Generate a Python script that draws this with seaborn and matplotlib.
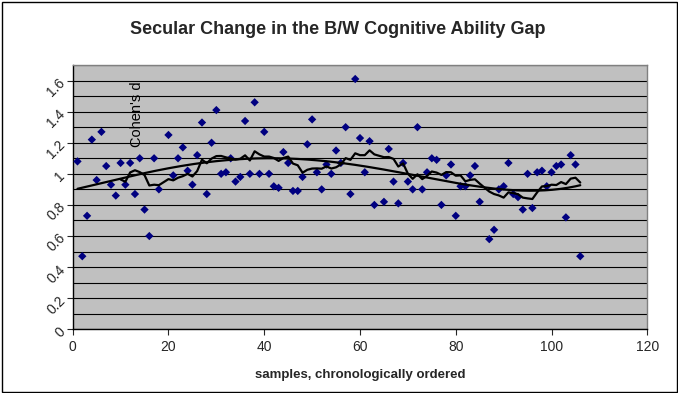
"""
Secular change in the B/W cognitive ability gap (Excel-style scatter chart).
"""

import matplotlib
matplotlib.use("Agg")
import matplotlib.pyplot as plt
from matplotlib.patches import Rectangle
from matplotlib.ticker import MultipleLocator
import seaborn as sns
import pandas as pd
import numpy as np

# samples, in chronological order (a few indices are absent in the source)
samples = [
    1, 2, 3, 4, 5, 6, 7, 8, 9, 10, 11, 12, 13, 14, 15, 16, 17, 18,
    20, 21, 22, 23, 24, 25, 26, 27, 28, 29, 30, 31, 32, 33, 34, 35, 36, 37, 38, 39, 40,
    41, 42, 43, 44, 45, 46, 47, 48, 49, 50, 51, 52, 53, 54, 55, 56, 57, 58, 59, 60,
    61, 62, 63, 65, 66, 67, 68, 69, 70, 71, 72, 73, 74, 75, 76, 77, 78, 79, 80,
    81, 82, 83, 84, 85, 87, 88, 89, 90, 91, 92, 93, 94, 95, 96, 97, 98, 99, 100,
    101, 102, 103, 104, 105, 106,
]
cohens_d = [
    1.08, 0.47, 0.73, 1.22, 0.96, 1.27, 1.05, 0.93, 0.86, 1.07, 0.93, 1.07, 0.87, 1.10, 0.77, 0.60, 1.10, 0.90,
    1.25, 0.99, 1.10, 1.17, 1.02, 0.93, 1.12, 1.33, 0.87, 1.20, 1.41, 1.00, 1.01, 1.10, 0.95, 0.98, 1.34, 1.00, 1.46, 1.00, 1.27,
    1.00, 0.92, 0.91, 1.14, 1.07, 0.89, 0.89, 0.98, 1.19, 1.35, 1.01, 0.90, 1.06, 1.00, 1.15, 1.07, 1.30, 0.87, 1.61, 1.23,
    1.01, 1.21, 0.80, 0.82, 1.16, 0.95, 0.81, 1.07, 0.95, 0.90, 1.30, 0.90, 1.01, 1.10, 1.09, 0.80, 0.99, 1.06, 0.73,
    0.92, 0.92, 0.99, 1.05, 0.82, 0.58, 0.64, 0.90, 0.92, 1.07, 0.87, 0.85, 0.77, 1.00, 0.78, 1.01, 1.02, 0.92, 1.01,
    1.05, 1.06, 0.72, 1.12, 1.06, 0.47,
]

title = "Secular Change in the B/W Cognitive Ability Gap"
x_label = "samples, chronologically ordered"
y_label = "Cohen's d"

df = pd.DataFrame({"sample": samples, "d": cohens_d})
# Excel-style trend lines: 10-period moving average and polynomial fit
df["ma"] = df["d"].rolling(10).mean()
coef = np.polyfit(df["sample"], df["d"], 4)
trend = pd.DataFrame({"sample": np.linspace(min(samples), max(samples), 200)})
trend["d"] = np.polyval(coef, trend["sample"])

sns.set_style("white")
plt.rcParams["font.family"] = ["Liberation Sans", "DejaVu Sans"]

fig = plt.figure(figsize=(6.78, 3.93), dpi=100)
ax = fig.add_axes([72.7 / 678, 1 - 329.3 / 393, (647.3 - 72.7) / 678, (329.3 - 65) / 393])
ax.set_facecolor("#C0C0C0")

sns.scatterplot(data=df, x="sample", y="d", marker="D", s=18, color="#000080",
                edgecolor="none", ax=ax, zorder=3)
sns.lineplot(data=df.dropna(), x="sample", y="ma", color="black", linewidth=1.6,
             ax=ax, zorder=4)
sns.lineplot(data=trend, x="sample", y="d", color="black", linewidth=1.6, ax=ax, zorder=4)

ax.set_xlim(0, 120)
ax.set_ylim(0, 1.7)
ax.xaxis.set_major_locator(MultipleLocator(20))
ax.yaxis.set_major_locator(MultipleLocator(0.2))
ax.yaxis.set_minor_locator(MultipleLocator(0.1))
ax.yaxis.set_major_formatter(plt.FuncFormatter(lambda v, _: f"{v:g}"))
ax.grid(False)
ax.grid(axis="y", which="both", color="black", linewidth=0.8)
ax.set_axisbelow(True)

ax.tick_params(axis="x", which="major", direction="out", length=4, width=0.8,
               labelsize=10, pad=4, bottom=True)
ax.tick_params(axis="y", which="major", direction="out", length=4, width=0.8,
               labelsize=10, pad=3, left=True)
ax.tick_params(axis="y", which="minor", length=0)
for lab in ax.get_yticklabels():
    lab.set_rotation(45)
    lab.set_rotation_mode("anchor")
    lab.set_ha("right")
    lab.set_va("center")

for side in ["left", "bottom"]:
    ax.spines[side].set_color("black")
    ax.spines[side].set_linewidth(1)
for side in ["top", "right"]:
    ax.spines[side].set_visible(True)
    ax.spines[side].set_color("#808080")
    ax.spines[side].set_linewidth(1)

ax.set_xlabel("")
ax.set_ylabel("")
fig.text(360 / 678, 1 - 375 / 393, x_label, ha="center", va="center",
         fontsize=9.5, fontweight="bold")
fig.text(137 / 678, 1 - 114.5 / 393, y_label, ha="center", va="center",
         rotation=90, fontsize=10.5, color="black")
fig.text(338 / 678, 1 - 30 / 393, title, ha="center", va="center",
         fontsize=13, fontweight="bold")

fig.patches.append(Rectangle((1.5 / 678, 1.5 / 393), 675 / 678, 390 / 393,
                             transform=fig.transFigure, fill=False,
                             edgecolor="black", linewidth=1))

fig.savefig("out.png", dpi=100)
plt.close(fig)
